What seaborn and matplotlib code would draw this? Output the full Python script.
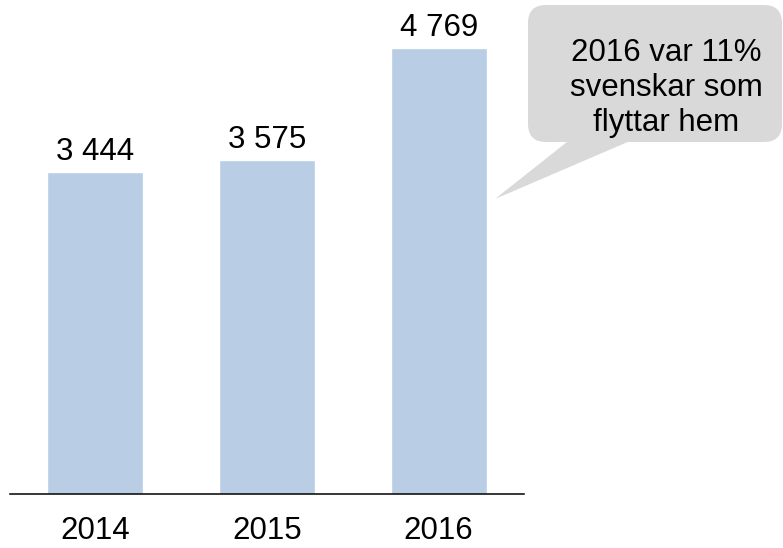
import matplotlib
matplotlib.use("Agg")
import matplotlib.pyplot as plt
from matplotlib.patches import FancyBboxPatch, Polygon
from matplotlib.transforms import IdentityTransform
import seaborn as sns
import pandas as pd

years = ["2014", "2015", "2016"]
returning = [3444, 3575, 4769]
callout_text = "2016 var 11%\nsvenskar som\nflyttar hem"

sns.set_style("white")
plt.rcParams["font.family"] = ["Liberation Sans", "DejaVu Sans"]
plt.rcParams["text.color"] = "black"
plt.rcParams["xtick.color"] = "black"
plt.rcParams["xtick.labelcolor"] = "black"

df = pd.DataFrame({"year": years, "count": returning})

W, H = 783, 548
fig = plt.figure(figsize=(W / 100, H / 100), dpi=100)
ax = fig.add_axes([9.5 / W, 54 / H, 515 / W, 467.6 / H])

sns.barplot(x="year", y="count", data=df, color="#b9cde5", width=0.56,
            saturation=1, ax=ax)
ax.set_xlim(-0.5, 2.5)
ax.set_ylim(0, 5000)

labels = [f"{v:,}".replace(",", " ") for v in returning]
ax.bar_label(ax.containers[0], labels=labels, padding=3.5, fontsize=22.5,
             color="black")

ax.set_xlabel("")
ax.set_ylabel("")
ax.set_yticks([])
ax.tick_params(axis="x", length=0, pad=15.5, labelsize=22.5, labelcolor="black")
for s in ["top", "left", "right"]:
    ax.spines[s].set_visible(False)
ax.spines["bottom"].set_color("black")
ax.spines["bottom"].set_linewidth(1.1)

# speech bubble (pixel coords, y from bottom)
box = FancyBboxPatch((528, H - 142), 254, 137,
                     boxstyle="round,pad=0,rounding_size=18",
                     facecolor="#d9d9d9", edgecolor="none",
                     transform=IdentityTransform())
tail = Polygon([(572, H - 138), (637, H - 138), (495, H - 199)], closed=True,
               facecolor="#d9d9d9", edgecolor="none",
               transform=IdentityTransform())
fig.add_artist(tail)
fig.add_artist(box)
fig.text(666 / W, 1 - 88 / H, callout_text, ha="center", va="center",
         fontsize=22.5, color="black", linespacing=1.2)

plt.savefig("out.png", dpi=100)
